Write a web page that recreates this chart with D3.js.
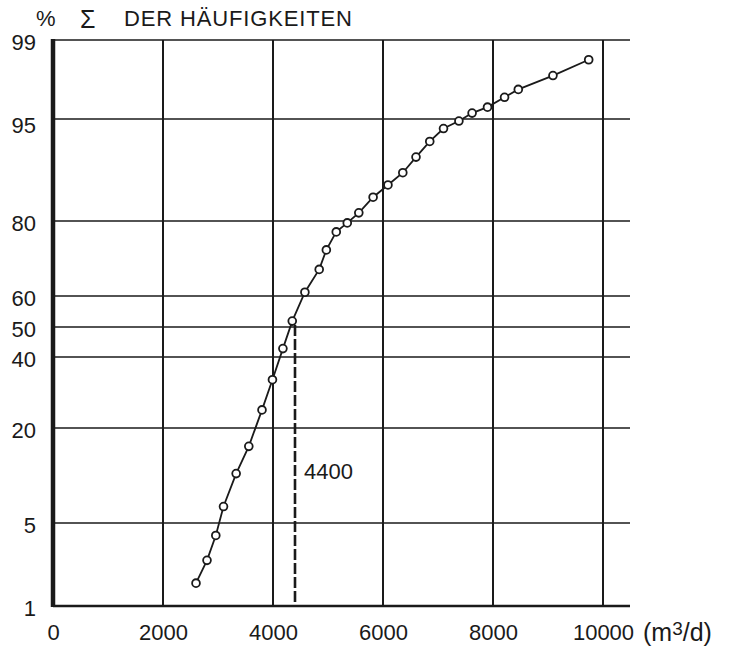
<!DOCTYPE html>
<html>
<head>
<meta charset="utf-8">
<script src="https://cdn.jsdelivr.net/npm/d3@7"></script>
<style>
  body { margin: 0; background: #fff; }
  text { font-family: "Liberation Sans", Arial, sans-serif; fill: #1a1a1a; }
</style>
</head>
<body>
<div id="chart"></div>
<script>
// probability grid ticks (cumulative % of frequencies)
var pctTicks = [1, 5, 20, 40, 50, 60, 80, 95, 99];
var flowTicks = [0, 2000, 4000, 6000, 8000, 10000];

// flow in m3/d and cumulative frequency in %
var flow = [2600, 2800, 2960, 3100, 3330, 3560, 3800, 3990, 4180, 4350,
            4580, 4840, 4970, 5150, 5350, 5560, 5820, 6090, 6360, 6600,
            6850, 7100, 7380, 7620, 7900, 8210, 8460, 9090, 9740];
var percent = [2.1, 3.2, 4.4, 7.6, 12.8, 17.1, 25.1, 33.6, 42.8, 51.9,
               61.0, 67.1, 72.3, 77.1, 79.5, 81.2, 83.5, 85.3, 87.1, 89.4,
               91.7, 93.6, 94.7, 95.3, 95.6, 96.1, 96.5, 97.2, 98.0];
var median = 4400;

var width = 732, height = 655;
var ink = "#1a1a1a";

var svg = d3.select("#chart").append("svg")
    .attr("width", width)
    .attr("height", height);

var x = d3.scaleLinear().domain([0, 10000]).range([53, 603]);
// hand drawn probability paper: grid lines placed as on the sheet
var y = d3.scaleLinear()
    .domain(pctTicks)
    .range([606, 523, 428, 357, 327, 296, 221, 119, 40]);

var gridRight = 630;

//horizontal grid
svg.selectAll(".hgrid")
    .data(pctTicks.filter(d => d !== 1))
    .enter().append("line")
    .attr("class", "hgrid")
    .attr("x1", x(0) + 2)
    .attr("x2", gridRight)
    .attr("y1", d => y(d))
    .attr("y2", d => y(d))
    .attr("stroke", ink)
    .attr("stroke-width", 1.6);

//vertical grid
svg.selectAll(".vgrid")
    .data(flowTicks.filter(d => d > 0))
    .enter().append("line")
    .attr("class", "vgrid")
    .attr("x1", d => x(d))
    .attr("x2", d => x(d))
    .attr("y1", y(99))
    .attr("y2", y(1))
    .attr("stroke", ink)
    .attr("stroke-width", 2);

//bottom and left axis lines
svg.append("line")
    .attr("x1", x(0)).attr("x2", gridRight)
    .attr("y1", y(1)).attr("y2", y(1))
    .attr("stroke", ink).attr("stroke-width", 2.6);
svg.append("line")
    .attr("x1", x(0)).attr("x2", x(0))
    .attr("y1", y(99) - 1).attr("y2", y(1) + 1)
    .attr("stroke", ink).attr("stroke-width", 4.5);

//axis labels
var yAxis = svg.append("g")
    .attr("transform", "translate(" + x(0) + ",0)")
    .call(d3.axisLeft(y).tickValues(pctTicks).tickSize(0).tickPadding(17).tickFormat(d3.format("d")));
yAxis.select(".domain").remove();
yAxis.selectAll("text")
    .attr("dy", d => d === 95 ? "0.62em" : "0.45em")
    .style("font-size", "22px")
    .style("font-family", "Liberation Sans, Arial, sans-serif")
    .attr("fill", ink);

var xAxis = svg.append("g")
    .attr("transform", "translate(0," + y(1) + ")")
    .call(d3.axisBottom(x).tickValues(flowTicks).tickSize(0).tickPadding(18).tickFormat(d3.format("d")));
xAxis.select(".domain").remove();
xAxis.selectAll("text")
    .style("font-size", "22px")
    .style("font-family", "Liberation Sans, Arial, sans-serif")
    .attr("fill", ink);

var unit = svg.append("text")
    .attr("x", 643)
    .attr("y", 641)
    .style("font-size", "25px");
unit.append("tspan").text("(m");
unit.append("tspan").attr("dy", -6).style("font-size", "19px").text("3");
unit.append("tspan").attr("dy", 6).text("/d)");

//title
svg.append("text").attr("x", 36).attr("y", 26).style("font-size", "22px").text("%");
svg.append("text").attr("x", 80).attr("y", 28).style("font-size", "25px").text("Σ");
svg.append("text")
    .attr("x", 124).attr("y", 26)
    .attr("textLength", 228)
    .attr("lengthAdjust", "spacing")
    .style("font-size", "22px")
    .text("DER HÄUFIGKEITEN");

//median marker
svg.append("line")
    .attr("x1", x(median)).attr("x2", x(median))
    .attr("y1", y(50) - 2).attr("y2", y(1))
    .attr("stroke", ink)
    .attr("stroke-width", 2.6)
    .attr("stroke-dasharray", "11,3");
svg.append("text")
    .attr("x", x(median) + 9)
    .attr("y", 479)
    .style("font-size", "22px")
    .text(median);

//curve
var pts = flow.map((f, i) => ({ f: f, p: percent[i] }));
var line = d3.line().x(d => x(d.f)).y(d => y(d.p));

svg.append("path")
    .datum(pts)
    .attr("d", line)
    .attr("fill", "none")
    .attr("stroke", ink)
    .attr("stroke-width", 1.8);

svg.selectAll(".pt")
    .data(pts)
    .enter().append("circle")
    .attr("class", "pt")
    .attr("cx", d => x(d.f))
    .attr("cy", d => y(d.p))
    .attr("r", 3.9)
    .attr("fill", "#fff")
    .attr("stroke", ink)
    .attr("stroke-width", 1.8);
</script>
</body>
</html>
